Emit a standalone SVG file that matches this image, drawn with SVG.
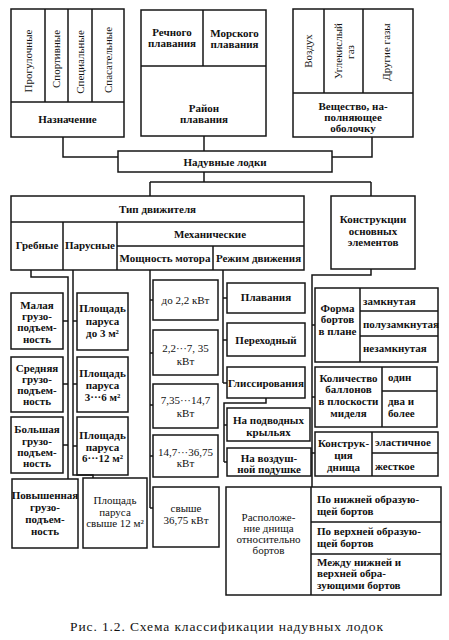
<svg xmlns="http://www.w3.org/2000/svg" width="449" height="640" viewBox="0 0 449 640" font-family="'Liberation Serif', 'DejaVu Serif', serif">
<style>
.bx{fill:none;stroke:#161616;stroke-width:1.5}
.ln{fill:none;stroke:#161616;stroke-width:1.5}
text{font-family:'Liberation Serif','DejaVu Serif',serif;font-size:11px;fill:#111}
.b{font-weight:bold}
.c{text-anchor:middle}
.cap{font-size:13.5px}
</style>
<rect x="0" y="0" width="449" height="640" fill="#fff"/>
<g id="connectors">
<path class="ln" d="M63,137 V157 H118"/>
<path class="ln" d="M204,136 V151"/>
<path class="ln" d="M372,137 V157 H332"/>
<path class="ln" d="M204,172 V182 M150,182 H371 M150,182 V196 M371,182 V196"/>
<path class="ln" d="M31,270 V277 H68 V479 M63,321 H68 M63,384 H68 M63,445 H68"/>
<path class="ln" d="M73,270 V475 H93 V478 M73,321 H77 M73,384 H77 M73,446 H77"/>
<path class="ln" d="M150,270 V508 M150,300 H153 M150,353 H153 M150,405 H153 M150,456 H153 M150,508 H153"/>
<path class="ln" d="M223,270 V383 M223,298 H227 M223,340 H227 M223,383 H227"/>
<path class="ln" d="M266,398 V403 H224 V462 M224,425 H227 M224,462 H227"/>
<path class="ln" d="M371,269 V275 H312 V487 M312,325 H315 M312,397 H315 M312,453 H315"/>
</g>
<g id="naznachenie">
<rect class="bx" x="11" y="9" width="113" height="128"/>
<path class="ln" d="M11,102 H124 M45,9 V102 M68,9 V102 M92,9 V102"/>
<text class="c" transform="translate(28,61) rotate(-90)" dy="0.35em">Прогулочные</text>
<text class="c" transform="translate(56.5,59) rotate(-90)" dy="0.35em">Спортивные</text>
<text class="c" transform="translate(80,62) rotate(-90)" dy="0.35em">Специальные</text>
<text class="c" transform="translate(108,60) rotate(-90)" dy="0.35em">Спасательные</text>
<text class="b c" x="67.5" y="123">Назначение</text>
</g>
<g id="rayon">
<rect class="bx" x="141" y="10" width="125" height="126"/>
<path class="ln" d="M141,66 H266 M203,10 V66"/>
<text class="b c" x="172" y="36">Речного</text>
<text class="b c" x="172" y="47">плавания</text>
<text class="b c" x="234.5" y="37">Морского</text>
<text class="b c" x="234.5" y="48">плавания</text>
<text class="b c" x="204" y="112">Район</text>
<text class="b c" x="204" y="123">плавания</text>
</g>
<g id="veshchestvo">
<rect class="bx" x="293" y="9" width="120" height="128"/>
<path class="ln" d="M293,93 H413 M324,9 V93 M363,9 V93"/>
<text class="c" transform="translate(308,51) rotate(-90)" dy="0.35em">Воздух</text>
<text class="c" transform="translate(338,51) rotate(-90)" dy="0.35em">Углекислый</text>
<text class="c" transform="translate(350,52) rotate(-90)" dy="0.35em">газ</text>
<text class="c" transform="translate(386,52) rotate(-90)" dy="0.35em">Другие газы</text>
<text class="b c" x="353" y="110">Вещество, на-</text>
<text class="b c" x="353" y="121">полняющее</text>
<text class="b c" x="353" y="132">оболочку</text>
</g>
<g id="naduvnye">
<rect class="bx" x="118" y="151" width="214" height="21"/>
<text class="b c" x="225" y="165.5">Надувные лодки</text>
</g>
<g id="tip">
<rect class="bx" x="11" y="196" width="293" height="74"/>
<path class="ln" d="M11,222 H304 M63,222 V270 M117,222 V270 M117,246 H304 M213,246 V270"/>
<text class="b c" x="157.5" y="213">Тип движителя</text>
<text class="b c" x="210" y="238">Механические</text>
<text class="b c" x="37" y="249">Гребные</text>
<text class="b c" x="90" y="249">Парусные</text>
<text class="b c" x="165" y="262">Мощность мотора</text>
<text class="b c" x="258.5" y="262">Режим движения</text>
</g>
<g id="konstrukcii">
<rect class="bx" x="331" y="196" width="84" height="73"/>
<text class="b c" x="373" y="223">Конструкции</text>
<text class="b c" x="373" y="235">основных</text>
<text class="b c" x="373" y="246">элементов</text>
</g>
<g id="malaya">
<rect class="bx" x="11" y="293" width="52" height="56"/>
<text class="b c" x="37" y="309">Малая</text>
<text class="b c" x="37" y="320">грузо-</text>
<text class="b c" x="37" y="331">подъем-</text>
<text class="b c" x="37" y="343">ность</text>
</g>
<g id="srednyaya">
<rect class="bx" x="11" y="357" width="52" height="55"/>
<text class="b c" x="37" y="372">Средняя</text>
<text class="b c" x="37" y="383">грузо-</text>
<text class="b c" x="37" y="394">подъем-</text>
<text class="b c" x="37" y="405">ность</text>
</g>
<g id="bolshaya">
<rect class="bx" x="11" y="417" width="52" height="56"/>
<text class="b c" x="37" y="433">Большая</text>
<text class="b c" x="37" y="445">грузо-</text>
<text class="b c" x="37" y="456">подъем-</text>
<text class="b c" x="37" y="467">ность</text>
</g>
<g id="povyshennaya">
<rect class="bx" x="12" y="479" width="66" height="69"/>
<text class="b c" x="45" y="499">Повышенная</text>
<text class="b c" x="45" y="511">грузо-</text>
<text class="b c" x="45" y="523">подъем-</text>
<text class="b c" x="45" y="535">ность</text>
</g>
<g id="parus1">
<rect class="bx" x="77" y="293" width="51" height="57"/>
<text class="b c" x="102.5" y="312">Площадь</text>
<text class="b c" x="102.5" y="325">паруса</text>
<text class="b c" x="102.5" y="337">до 3 м²</text>
</g>
<g id="parus2">
<rect class="bx" x="77" y="357" width="51" height="55"/>
<text class="b c" x="102.5" y="377">Площадь</text>
<text class="b c" x="102.5" y="389">паруса</text>
<text class="b c" x="102.5" y="401">3···6 м²</text>
</g>
<g id="parus3">
<rect class="bx" x="77" y="417" width="51" height="58"/>
<text class="b c" x="102.5" y="439">Площадь</text>
<text class="b c" x="102.5" y="451">паруса</text>
<text class="b c" x="102.5" y="462">6···12 м²</text>
</g>
<g id="parus4">
<rect class="bx" x="83" y="478" width="64" height="70"/>
<text class="c" x="115" y="504">Площадь</text>
<text class="c" x="115" y="516">паруса</text>
<text class="c" x="115" y="527">свыше 12 м²</text>
</g>
<g id="moshch1">
<rect class="bx" x="153" y="280" width="65" height="40"/>
<text class="c" x="185.5" y="304">до 2,2 кВт</text>
</g>
<g id="moshch2">
<rect class="bx" x="153" y="330" width="65" height="45"/>
<text class="c" x="185.5" y="352">2,2···7, 35</text>
<text class="c" x="185.5" y="365">кВт</text>
</g>
<g id="moshch3">
<rect class="bx" x="153" y="384" width="65" height="44"/>
<text class="c" x="185.5" y="404">7,35···14,7</text>
<text class="c" x="185.5" y="417">кВт</text>
</g>
<g id="moshch4">
<rect class="bx" x="153" y="435" width="65" height="42"/>
<text class="c" x="185.5" y="456">14,7···36,75</text>
<text class="c" x="185.5" y="467">кВт</text>
</g>
<g id="moshch5">
<rect class="bx" x="153" y="487" width="66" height="60"/>
<text class="c" x="186" y="512">свыше</text>
<text class="c" x="186" y="524">36,75 кВт</text>
</g>
<g id="plavaniya">
<rect class="bx" x="227" y="283" width="78" height="30"/>
<text class="b c" x="266" y="301">Плавания</text>
</g>
<g id="perehodny">
<rect class="bx" x="227" y="323" width="78" height="33"/>
<text class="b c" x="266" y="344">Переходный</text>
</g>
<g id="glissirovaniya">
<rect class="bx" x="227" y="367" width="78" height="31"/>
<text class="b c" x="266" y="387">Глиссирования</text>
</g>
<g id="podvodnyh">
<rect class="bx" x="227" y="408" width="83" height="33"/>
<text class="b c" x="268.5" y="424">На подводных</text>
<text class="b c" x="268.5" y="436">крыльях</text>
</g>
<g id="podushke">
<rect class="bx" x="227" y="448" width="84" height="28"/>
<text class="b c" x="269" y="462">На воздуш-</text>
<text class="b c" x="269" y="473">ной подушке</text>
</g>
<g id="forma">
<rect class="bx" x="315" y="288" width="123" height="74"/>
<path class="ln" d="M360,288 V362 M360,311 H438 M360,336 H438"/>
<text class="b c" x="337.5" y="312">Форма</text>
<text class="b c" x="337.5" y="323">бортов</text>
<text class="b c" x="337.5" y="335">в плане</text>
<text class="b" x="363" y="305">замкнутая</text>
<text class="b" x="363" y="328">полузамкнутая</text>
<text class="b" x="363" y="352">незамкнутая</text>
</g>
<g id="kolichestvo">
<rect class="bx" x="315" y="367" width="122" height="60"/>
<path class="ln" d="M382,367 V427 M382,391 H437"/>
<text class="b c" x="348.5" y="382">Количество</text>
<text class="b c" x="348.5" y="393">баллонов</text>
<text class="b c" x="348.5" y="405">в плоскости</text>
<text class="b c" x="348.5" y="417">миделя</text>
<text class="b" x="388" y="381">один</text>
<text class="b" x="388" y="405">два и</text>
<text class="b" x="388" y="417">более</text>
</g>
<g id="dnishche">
<rect class="bx" x="315" y="432" width="123" height="44"/>
<path class="ln" d="M372,432 V476 M372,453 H438"/>
<text class="b c" x="343.5" y="447">Конструк-</text>
<text class="b c" x="343.5" y="459">ция</text>
<text class="b c" x="343.5" y="471">днища</text>
<text class="b" x="375" y="446">эластичное</text>
<text class="b" x="375" y="470">жесткое</text>
</g>
<g id="raspolozhenie">
<rect class="bx" x="226" y="487" width="215" height="108"/>
<path class="ln" d="M311,487 V595 M311,522 H441 M311,554 H441"/>
<text class="c" x="268.5" y="521">Расположе-</text>
<text class="c" x="268.5" y="532">ние днища</text>
<text class="c" x="268.5" y="543">относительно</text>
<text class="c" x="268.5" y="554">бортов</text>
<text class="b" x="317" y="503">По нижней образую-</text>
<text class="b" x="317" y="515">щей бортов</text>
<text class="b" x="317" y="535">По верхней образую-</text>
<text class="b" x="317" y="547">щей бортов</text>
<text class="b" x="317" y="566">Между нижней и</text>
<text class="b" x="317" y="577">верхней обра-</text>
<text class="b" x="317" y="589">зующими бортов</text>
</g>
<text class="cap" x="70" y="631" textLength="313" lengthAdjust="spacing">Рис. 1.2. Схема классификации надувных лодок</text>
</svg>
